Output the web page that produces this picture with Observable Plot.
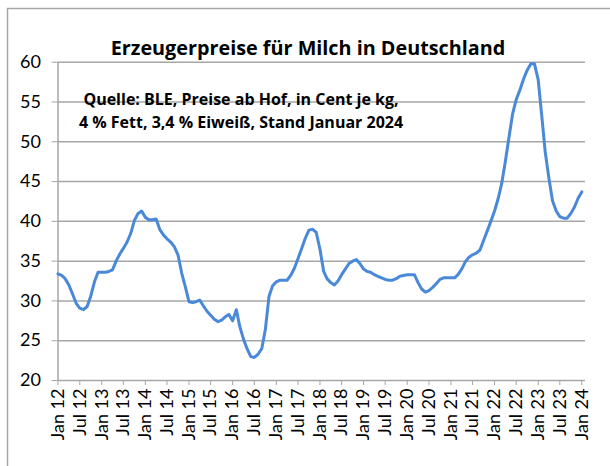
<!DOCTYPE html>
<html><head><meta charset="utf-8">
<script src="https://cdn.jsdelivr.net/npm/d3@7"></script>
<script src="https://cdn.jsdelivr.net/npm/@observablehq/plot@0.6"></script>
<style>body{margin:0;background:#fff} #chart{width:610px;height:466px}</style>
</head><body><div id="chart"></div>
<script>
// Erzeugerpreise Milch, Cent/kg, monthly Jan 2012 .. Jan 2024
const prices = [
  33.4, 33.2, 32.8, 32.0, 30.9, 29.7, 29.1, 28.9, 29.3, 30.6, 32.4, 33.6, // 2012
  33.6, 33.6, 33.7, 33.9, 35.0, 35.9, 36.6, 37.4, 38.5, 40.1, 41.0, 41.3, // 2013
  40.5, 40.2, 40.2, 40.3, 39.0, 38.3, 37.8, 37.4, 36.8, 35.8, 33.5, 31.8, // 2014
  29.9, 29.8, 29.9, 30.1, 29.4, 28.7, 28.2, 27.7, 27.4, 27.6, 28.0, 28.3, // 2015
  27.5, 28.9, 26.8, 25.2, 24.0, 23.0, 22.9, 23.3, 24.0, 26.4, 30.6, 31.9, // 2016
  32.4, 32.6, 32.6, 32.6, 33.2, 34.1, 35.3, 36.6, 37.9, 38.9, 39.0, 38.6, // 2017
  36.5, 33.7, 32.8, 32.3, 32.0, 32.5, 33.3, 34.0, 34.7, 35.0, 35.2, 34.7, // 2018
  34.0, 33.7, 33.6, 33.3, 33.1, 32.9, 32.7, 32.6, 32.6, 32.8, 33.1, 33.2, // 2019
  33.3, 33.3, 33.3, 32.3, 31.5, 31.1, 31.3, 31.7, 32.2, 32.7, 32.9, 32.9, // 2020
  32.9, 32.9, 33.3, 34.0, 34.9, 35.5, 35.8, 36.0, 36.4, 37.6, 38.8, 40.0, // 2021
  41.3, 42.9, 44.7, 47.5, 50.5, 53.5, 55.3, 56.5, 57.9, 59.0, 59.8, 59.8, // 2022
  57.8, 53.1, 48.7, 45.4, 42.6, 41.3, 40.6, 40.4, 40.4, 41.0, 41.8, 42.9, // 2023
  43.7                                                                    // Jan 2024
];
const tickLabels = ["Jan 12","Jul 12","Jan 13","Jul 13","Jan 14","Jul 14","Jan 15","Jul 15",
  "Jan 16","Jul 16","Jan 17","Jul 17","Jan 18","Jul 18","Jan 19","Jul 19","Jan 20","Jul 20",
  "Jan 21","Jul 21","Jan 22","Jul 22","Jan 23","Jul 23","Jan 24"];
const yTicks = [20, 25, 30, 35, 40, 45, 50, 55, 60];
const titleText = "Erzeugerpreise für Milch in Deutschland";
const noteLines = ["Quelle: BLE, Preise ab Hof, in Cent je kg,", "4 % Fett, 3,4 % Eiweiß, Stand Januar 2024"];

const data = prices.map((v, i) => ({date: new Date(Date.UTC(2012, i, 1)), value: v}));
const tickDates = tickLabels.map((_, i) => new Date(Date.UTC(2012, i * 6, 1)));
const labelOf = new Map(tickDates.map((d, i) => [+d, tickLabels[i]]));
const grid = "#a6a6a6";

const plot = Plot.plot({
  width: 610, height: 466,
  marginLeft: 57.5, marginRight: 25, marginTop: 61.7, marginBottom: 86,
  style: {fontFamily: "Lato, 'Open Sans', sans-serif", fontSize: "18px", color: "#000", background: "#fff"},
  x: {type: "utc", domain: [new Date(Date.UTC(2012, 0, 1)), new Date(Date.UTC(2024, 1, 1))]},
  y: {domain: [20, 60]},
  marks: [
    Plot.ruleY(yTicks.slice(1), {stroke: grid, strokeWidth: 1.5}),
    Plot.ruleY([20], {stroke: grid, strokeWidth: 1.5}),
    Plot.ruleX([tickDates[0]], {stroke: grid, strokeWidth: 1.5}),
    Plot.axisY({ticks: yTicks, tickSize: 6, tickPadding: 11, stroke: grid, label: null}),
    Plot.axisX({ticks: tickDates, tickFormat: d => labelOf.get(+d), tickRotate: -90, tickSize: 5, tickPadding: 3, stroke: grid, label: null}),
    Plot.line(data, {x: "date", y: "value", stroke: "#4a88d8", strokeWidth: 3, strokeLinejoin: "round"})
  ]
});
document.getElementById("chart").append(plot);

const svg = d3.select(plot);
// outer chart frame (left and top edges visible)
svg.append("path").attr("d", "M7.5,466V8.5H610").attr("fill", "none").attr("stroke", grid).attr("stroke-width", 1.5);
svg.append("text").attr("x", 308).attr("y", 55).attr("text-anchor", "middle")
  .attr("font-family", "'Open Sans', sans-serif").attr("font-weight", "bold").attr("font-size", 19.8).attr("fill", "#000")
  .text(titleText);
noteLines.forEach((t, i) => {
  svg.append("text").attr("x", 241).attr("y", 105 + i * 23).attr("text-anchor", "middle")
    .attr("font-family", "'Open Sans', sans-serif").attr("font-weight", "bold").attr("font-size", 16).attr("fill", "#000")
    .text(t);
});
</script>
</body></html>
